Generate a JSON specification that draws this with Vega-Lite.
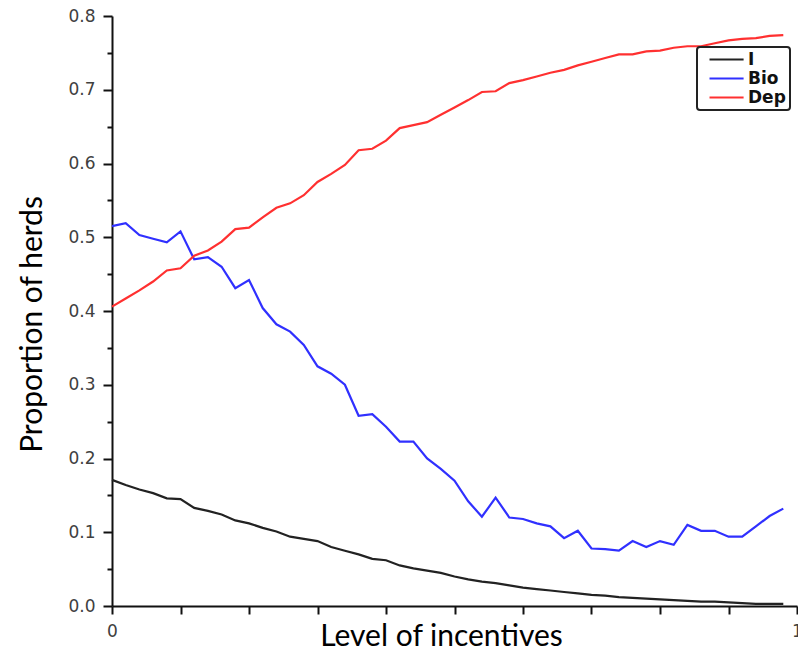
{
  "$schema": "https://vega.github.io/schema/vega-lite/v6.json",
  "autosize": {"type": "none"},
  "padding": {"left": 112, "top": 16, "right": 1, "bottom": 53},
  "width": 685,
  "height": 590,
  "background": "white",
  "data": {"values": [
    {"x":0,"I":0.171,"Bio":0.515,"Dep":0.406},
    {"x":0.02,"I":0.164,"Bio":0.519,"Dep":0.417},
    {"x":0.04,"I":0.158,"Bio":0.503,"Dep":0.428},
    {"x":0.06,"I":0.153,"Bio":0.498,"Dep":0.440},
    {"x":0.08,"I":0.146,"Bio":0.493,"Dep":0.455},
    {"x":0.10,"I":0.145,"Bio":0.508,"Dep":0.458},
    {"x":0.12,"I":0.133,"Bio":0.470,"Dep":0.475},
    {"x":0.14,"I":0.129,"Bio":0.473,"Dep":0.482},
    {"x":0.16,"I":0.124,"Bio":0.460,"Dep":0.494},
    {"x":0.18,"I":0.116,"Bio":0.431,"Dep":0.511},
    {"x":0.20,"I":0.112,"Bio":0.442,"Dep":0.513},
    {"x":0.22,"I":0.106,"Bio":0.404,"Dep":0.527},
    {"x":0.24,"I":0.101,"Bio":0.382,"Dep":0.540},
    {"x":0.26,"I":0.094,"Bio":0.372,"Dep":0.546},
    {"x":0.28,"I":0.091,"Bio":0.354,"Dep":0.557},
    {"x":0.30,"I":0.088,"Bio":0.325,"Dep":0.575},
    {"x":0.32,"I":0.080,"Bio":0.315,"Dep":0.586},
    {"x":0.34,"I":0.075,"Bio":0.300,"Dep":0.598},
    {"x":0.36,"I":0.070,"Bio":0.258,"Dep":0.618},
    {"x":0.38,"I":0.064,"Bio":0.260,"Dep":0.620},
    {"x":0.40,"I":0.062,"Bio":0.243,"Dep":0.631},
    {"x":0.42,"I":0.055,"Bio":0.223,"Dep":0.648},
    {"x":0.44,"I":0.051,"Bio":0.223,"Dep":0.652},
    {"x":0.46,"I":0.048,"Bio":0.200,"Dep":0.656},
    {"x":0.48,"I":0.045,"Bio":0.186,"Dep":0.666},
    {"x":0.50,"I":0.040,"Bio":0.170,"Dep":0.676},
    {"x":0.52,"I":0.036,"Bio":0.142,"Dep":0.686},
    {"x":0.54,"I":0.033,"Bio":0.121,"Dep":0.697},
    {"x":0.56,"I":0.031,"Bio":0.147,"Dep":0.698},
    {"x":0.58,"I":0.028,"Bio":0.120,"Dep":0.709},
    {"x":0.60,"I":0.025,"Bio":0.118,"Dep":0.713},
    {"x":0.62,"I":0.023,"Bio":0.112,"Dep":0.718},
    {"x":0.64,"I":0.021,"Bio":0.108,"Dep":0.723},
    {"x":0.66,"I":0.019,"Bio":0.092,"Dep":0.727},
    {"x":0.68,"I":0.017,"Bio":0.102,"Dep":0.733},
    {"x":0.70,"I":0.015,"Bio":0.078,"Dep":0.738},
    {"x":0.72,"I":0.014,"Bio":0.077,"Dep":0.743},
    {"x":0.74,"I":0.012,"Bio":0.075,"Dep":0.748},
    {"x":0.76,"I":0.011,"Bio":0.088,"Dep":0.748},
    {"x":0.78,"I":0.010,"Bio":0.080,"Dep":0.752},
    {"x":0.80,"I":0.009,"Bio":0.088,"Dep":0.753},
    {"x":0.82,"I":0.008,"Bio":0.083,"Dep":0.757},
    {"x":0.84,"I":0.007,"Bio":0.110,"Dep":0.759},
    {"x":0.86,"I":0.006,"Bio":0.102,"Dep":0.759},
    {"x":0.88,"I":0.006,"Bio":0.102,"Dep":0.763},
    {"x":0.90,"I":0.005,"Bio":0.094,"Dep":0.767},
    {"x":0.92,"I":0.004,"Bio":0.094,"Dep":0.769},
    {"x":0.94,"I":0.003,"Bio":0.108,"Dep":0.770},
    {"x":0.96,"I":0.003,"Bio":0.122,"Dep":0.773},
    {"x":0.98,"I":0.003,"Bio":0.132,"Dep":0.774}
  ]},
  "transform": [{"fold": ["I", "Bio", "Dep"], "as": ["series", "value"]}],
  "mark": {"type": "line", "strokeWidth": 2.2, "clip": false},
  "encoding": {
    "x": {
      "field": "x", "type": "quantitative",
      "scale": {"domain": [0, 1], "nice": false, "zero": false},
      "axis": {
        "values": [0, 0.1, 0.2, 0.3, 0.4, 0.5, 0.6, 0.7, 0.8, 0.9, 1],
        "labelExpr": "datum.value == 0 ? '0' : (datum.value == 1 ? '1' : '')",
        "labelFlush": false,
        "grid": false,
        "title": "Level of incentives",
        "titleX": 329, "titleY": 30, "titleBaseline": "middle", "titleAlign": "center",
        "tickSize": 8, "labelPadding": 9
      }
    },
    "y": {
      "field": "value", "type": "quantitative",
      "scale": {"domain": [0, 0.8], "nice": false},
      "axis": {
        "values": [0, 0.05, 0.1, 0.15, 0.2, 0.25, 0.3, 0.35, 0.4, 0.45, 0.5, 0.55, 0.6, 0.65, 0.7, 0.75, 0.8],
        "labelExpr": "abs(datum.value*10 - round(datum.value*10)) < 0.001 ? format(datum.value, '.1f') : ''",
        "tickSize": {"condition": {"test": "abs(datum.value*10 - round(datum.value*10)) < 0.001", "value": 9}, "value": 5},
        "grid": false,
        "title": "Proportion of herds",
        "titleX": -80, "titleY": 308, "titleBaseline": "middle", "titleAlign": "center", "titleAngle": -90,
        "labelPadding": 8
      }
    },
    "color": {
      "field": "series", "type": "nominal",
      "scale": {"domain": ["I", "Bio", "Dep"], "range": ["#222222", "#3030ff", "#ff3030"]},
      "legend": {
        "orient": "none", "legendX": 585, "legendY": 31, "title": null,
        "symbolType": "M0,0H6.2", "symbolSize": 121, "symbolStrokeWidth": 2,
        "labelFont": "DejaVu Sans", "labelFontSize": 17, "labelFontWeight": "bold", "labelColor": "#111111",
        "strokeColor": "#222222", "fillColor": "white", "padding": 4, "cornerRadius": 3,
        "rowPadding": 1, "labelOffset": 30
      }
    }
  },
  "config": {
    "view": {"stroke": null},
    "axis": {
      "domainColor": "#111111", "domainWidth": 2, "tickColor": "#111111", "tickWidth": 2,
      "labelFont": "DejaVu Sans", "labelFontSize": 17, "labelColor": "#404040",
      "titleFont": "Lato", "titleFontSize": 30, "titleFontWeight": "normal", "titleColor": "#000000"
    },
    "legend": {"strokeWidth": 2}
  }
}
